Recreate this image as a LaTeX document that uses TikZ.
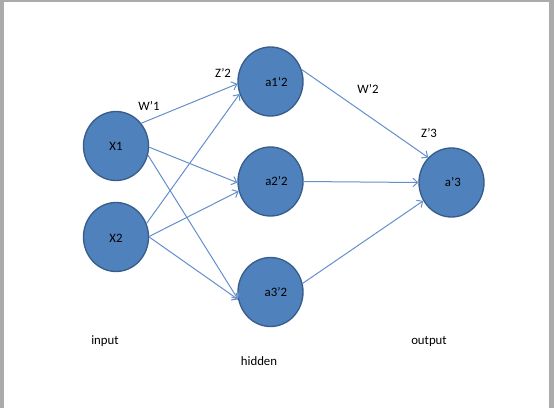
\documentclass[tikz,border=0pt]{standalone}
\usepackage{fontspec}
\setmainfont{Carlito}
\usetikzlibrary{shapes.geometric,arrows.meta}
\definecolor{nodefill}{RGB}{79,129,189}
\definecolor{nodeline}{RGB}{56,93,138}
\definecolor{edgecol}{RGB}{100,143,204}
\definecolor{framegray}{RGB}{171,171,171}
\begin{document}
\begin{tikzpicture}[x=0.75pt,y=-0.75pt,
  neuron/.style={ellipse,draw=nodeline,fill=nodefill,line width=1pt,
    minimum width=48.75pt,minimum height=51.75pt,inner sep=0pt,
    font=\fontsize{9.6}{11}\selectfont,text=black},
  lbl/.style={inner sep=0pt,font=\fontsize{9.6}{11}\selectfont,text=black},
  conn/.style={draw=edgecol,line width=0.75pt,-{Straight Barb[length=3.5pt,width=6.5pt]}}]
\useasboundingbox (0,0) rectangle (554,408);
\fill[framegray] (0,0) rectangle (554,408);
\fill[white] (4,2) rectangle (549,408);
\node[neuron] (x1) at (116,146) {X1};
\node[neuron] (x2) at (116,237) {\raisebox{-4pt}[0pt][0pt]{X2}};
\node[neuron] (h1) at (270.5,81.5) {\hspace*{9pt}a1‘2};
\node[neuron] (h2) at (270.5,181.5) {\hspace*{9pt}a2’2};
\node[neuron] (h3) at (270.5,292) {\hspace*{8pt}a3’2};
\node[neuron] (o) at (451.5,182.5) {\hspace*{2pt}a’3};
\node[lbl] (w1) at (149,106) {W’1};
\node[lbl] (z2) at (223,73) {Z’2};
\node[lbl] (w2) at (368,89) {W’2};
\node[lbl] (z3) at (429,133) {Z’3};
\node[lbl] (in) at (105,341) {input};
\node[lbl] (hid) at (259,361) {hidden};
\node[lbl] (out) at (429,341) {output};
\draw[conn] (x1.42) -- (h1.184);
\draw[conn] (x1.-2) -- (h2.182);
\draw[conn] (x1.-16) -- (h3.193);
\draw[conn] (x2.24) -- (h1.202);
\draw[conn] (x2.1) -- (h2.197);
\draw[conn] (x2.0) -- (h3.193);
\draw[conn] (h1.21) -- (o.133);
\draw[conn] (h2.0) -- (o.180);
\draw[conn] (h3.15) -- (o.213);
\end{tikzpicture}
\end{document}
